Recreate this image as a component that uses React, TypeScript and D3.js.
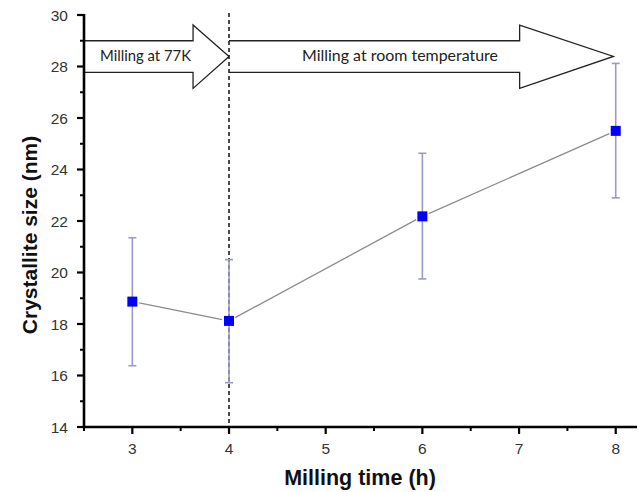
import React from "react";
import * as d3 from "d3";

const millingTime = [3, 4, 6, 8];
const crystalliteSize = [18.87, 18.12, 22.18, 25.5];
const errorLow = [16.38, 15.72, 19.75, 22.9];
const errorHigh = [21.35, 20.5, 24.63, 28.12];
const xTicks = [3, 4, 5, 6, 7, 8];
const yTicks = [14, 16, 18, 20, 22, 24, 26, 28, 30];
const arrowLabels = ["Milling at 77K", "Milling at room temperature"];

const W = 638;
const H = 492;

export default function App() {
  const x = d3.scaleLinear().domain([2.5, 8.22]).range([84, 637]);
  const y = d3.scaleLinear().domain([14, 30]).range([427, 15]);

  const xMinor = d3.range(2.5, 8.01, 0.5).filter((v) => !xTicks.includes(v));
  const yMinor = d3.range(15, 30, 2);

  // arrow geometry in data units
  const bodyTop = 29.0, bodyBot = 27.77, headTop = 29.61, headBot = 27.15, tipY = 28.39;
  const arrowPath = (x0: number, xh: number, xt: number) => {
    const p = d3.path();
    p.moveTo(x(x0), y(bodyTop));
    p.lineTo(x(xh), y(bodyTop));
    p.lineTo(x(xh), y(headTop));
    p.lineTo(x(xt), y(tipY));
    p.lineTo(x(xh), y(headBot));
    p.lineTo(x(xh), y(bodyBot));
    p.lineTo(x(x0), y(bodyBot));
    return p.toString();
  };

  const pts = millingTime.map((t, i) => [x(t), y(crystalliteSize[i])] as [number, number]);
  const gap = 7;
  const segs = pts.slice(1).map((p, i) => {
    const a = pts[i];
    const dx = p[0] - a[0], dy = p[1] - a[1];
    const len = Math.hypot(dx, dy);
    const ux = dx / len, uy = dy / len;
    return [a[0] + ux * gap, a[1] + uy * gap, p[0] - ux * gap, p[1] - uy * gap];
  });

  const sans = "Arial, 'Liberation Sans', sans-serif";
  const arrowFont = "Lato, 'Open Sans', sans-serif";

  return (
    <svg width={W} height={H} style={{ position: "absolute", left: 0, top: 0, background: "#fff" }}>
      {/* arrows */}
      <path d={arrowPath(2.5, 3.628, 4)} fill="#fff" stroke="#222" strokeWidth={1.3} />
      <path d={arrowPath(4, 7.006, 7.976)} fill="#fff" stroke="#222" strokeWidth={1.3} />
      <text x={100} y={61} fontFamily={arrowFont} fontSize={15} fill="#222" textLength={91} lengthAdjust="spacingAndGlyphs">{arrowLabels[0]}</text>
      <text x={302} y={61} fontFamily={arrowFont} fontSize={15} fill="#222" textLength={196} lengthAdjust="spacingAndGlyphs">{arrowLabels[1]}</text>

      {/* dashed vertical line */}
      <line x1={x(4)} x2={x(4)} y1={y(30) - 2} y2={y(14)} stroke="#111" strokeWidth={1.5} strokeDasharray="4,3" />

      {/* error bars */}
      {millingTime.map((t, i) => (
        <g key={"e" + i} stroke="#9b9bc8" strokeWidth={1.6}>
          <line x1={x(t)} x2={x(t)} y1={y(errorLow[i])} y2={y(errorHigh[i])} />
          <line x1={x(t) - 4} x2={x(t) + 4} y1={y(errorLow[i])} y2={y(errorLow[i])} />
          <line x1={x(t) - 4} x2={x(t) + 4} y1={y(errorHigh[i])} y2={y(errorHigh[i])} />
        </g>
      ))}

      {/* connecting line */}
      {segs.map((s, i) => (
        <line key={"s" + i} x1={s[0]} y1={s[1]} x2={s[2]} y2={s[3]} stroke="#8c8c8c" strokeWidth={1.3} />
      ))}

      {/* markers */}
      {pts.map((p, i) => (
        <rect key={"m" + i} x={p[0] - 5} y={p[1] - 5} width={10} height={10} fill="#0000ff" />
      ))}

      {/* axes */}
      <line x1={84} x2={84} y1={y(30) - 1} y2={y(14) + 1.2} stroke="#000" strokeWidth={2.6} />
      <line x1={83} x2={637} y1={y(14)} y2={y(14)} stroke="#000" strokeWidth={2.6} />
      {xTicks.map((t) => (
        <g key={"xt" + t}>
          <line x1={x(t)} x2={x(t)} y1={y(14)} y2={y(14) + 7} stroke="#000" strokeWidth={2.2} />
          <text x={x(t)} y={454} textAnchor="middle" fontFamily={sans} fontSize={15.5} fill="#333">{t}</text>
        </g>
      ))}
      {xMinor.map((t) => (
        <line key={"xm" + t} x1={x(t)} x2={x(t)} y1={y(14)} y2={y(14) + 4} stroke="#000" strokeWidth={2} />
      ))}
      {yTicks.map((t) => (
        <g key={"yt" + t}>
          <line x1={84} x2={77} y1={y(t)} y2={y(t)} stroke="#000" strokeWidth={2.2} />
          <text x={68} y={y(t) + 5.5} textAnchor="end" fontFamily={sans} fontSize={15.5} fill="#333">{t}</text>
        </g>
      ))}
      {yMinor.map((t) => (
        <line key={"ym" + t} x1={84} x2={80} y1={y(t)} y2={y(t)} stroke="#000" strokeWidth={2} />
      ))}

      {/* axis titles */}
      <text x={360} y={485} textAnchor="middle" fontFamily={sans} fontWeight="bold" fontSize={21.5} fill="#111">Milling time (h)</text>
      <text transform={`translate(37,235) rotate(-90)`} textAnchor="middle" fontFamily={sans} fontWeight="bold" fontSize={21} fill="#111">Crystallite size (nm)</text>
    </svg>
  );
}
